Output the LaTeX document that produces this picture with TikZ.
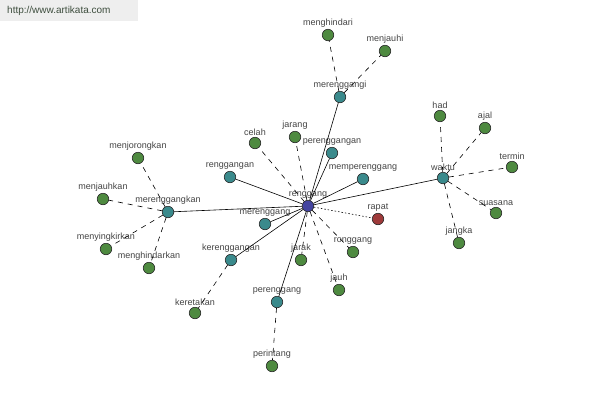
\documentclass[tikz,border=0pt]{standalone}
\usepackage{fontspec}
\setmainfont{Liberation Sans}
\definecolor{cgreen}{HTML}{4E8A40}
\definecolor{cteal}{HTML}{3A8A8C}
\definecolor{cblue}{HTML}{4444A0}
\definecolor{cred}{HTML}{9E3A3A}
\definecolor{ctext}{HTML}{444444}
\definecolor{wmbg}{HTML}{EEEEEE}
\definecolor{wmtext}{HTML}{3E4E3E}
\tikzset{
  nd/.style={circle,draw=black!85,line width=0.6pt,minimum size=11.5pt,inner sep=0pt},
  gn/.style={nd,fill=cgreen},
  tn/.style={nd,fill=cteal},
  bn/.style={nd,fill=cblue},
  rn/.style={nd,fill=cred},
  lbl/.style={label={[text=ctext,font=\fontsize{9}{10}\selectfont,inner sep=0pt,yshift=1.5pt]above:#1}},
  solidedge/.style={draw=black,line width=0.6pt},
  dashedge/.style={draw=black,line width=0.6pt,dash pattern=on 5pt off 5pt},
  dotedge/.style={draw=black,line width=0.6pt,dash pattern=on 1.5pt off 2pt}
}
\begin{document}
\begin{tikzpicture}[x=1pt,y=-1pt]
\useasboundingbox[fill=white] (0,0) rectangle (600,400);
\fill[wmbg] (0,0) rectangle (138,21);
\node[text=wmtext,font=\fontsize{10}{11}\selectfont,anchor=west,inner sep=0pt] (wm) at (7,11) {http://www.artikata.com};
% nodes
\node[bn,lbl=renggang] (renggang) at (308,206) {};
\node[tn,lbl=merenggangi] (merenggangi) at (340,97) {};
\node[gn,lbl=menghindari] (menghindari) at (328,35) {};
\node[gn,lbl=menjauhi] (menjauhi) at (385,51) {};
\node[tn,lbl=waktu] (waktu) at (443,178) {};
\node[gn,lbl=had] (had) at (440,116) {};
\node[gn,lbl=ajal] (ajal) at (485,128) {};
\node[gn,lbl=termin] (termin) at (512,167) {};
\node[gn,lbl=suasana] (suasana) at (496,213) {};
\node[gn,lbl=jangka] (jangka) at (459,243) {};
\node[tn,lbl=merenggangkan] (merenggangkan) at (168,212) {};
\node[gn,lbl=menjorongkan] (menjorongkan) at (138,158) {};
\node[gn,lbl=menjauhkan] (menjauhkan) at (103,199) {};
\node[gn,lbl=menyingkirkan] (menyingkirkan) at (106,249) {};
\node[gn,lbl=menghindarkan] (menghindarkan) at (149,268) {};
\node[tn,lbl=renggangan] (renggangan) at (230,177) {};
\node[gn,lbl=celah] (celah) at (255,143) {};
\node[gn,lbl=jarang] (jarang) at (295,137) {};
\node[tn,lbl=perenggangan] (perenggangan) at (332,153) {};
\node[tn,lbl=memperenggang] (memperenggang) at (363,179) {};
\node[rn,lbl=rapat] (rapat) at (378,219) {};
\node[tn,lbl=merenggang] (merenggang) at (265,224) {};
\node[tn,lbl=kerenggangan] (kerenggangan) at (231,260) {};
\node[gn,lbl=keretakan] (keretakan) at (195,313) {};
\node[gn,lbl=jarak] (jarak) at (301,260) {};
\node[gn,lbl=ronggang] (ronggang) at (353,252) {};
\node[gn,lbl=jauh] (jauh) at (339,290) {};
\node[tn,lbl=perenggang] (perenggang) at (277,302) {};
\node[gn,lbl=perintang] (perintang) at (272,366) {};
% edges
\foreach \t in {merenggangi,waktu,merenggangkan,renggangan,perenggangan,memperenggang,merenggang,kerenggangan,perenggang}
  \path[solidedge] (renggang) -- (\t);
\foreach \t in {celah,jarang,jarak,ronggang,jauh}
  \path[dashedge] (renggang) -- (\t);
\path[dotedge] (renggang) -- (rapat);
\foreach \t in {menghindari,menjauhi}
  \path[dashedge] (merenggangi) -- (\t);
\foreach \t in {had,ajal,termin,suasana,jangka}
  \path[dashedge] (waktu) -- (\t);
\foreach \t in {menjorongkan,menjauhkan,menyingkirkan,menghindarkan}
  \path[dashedge] (merenggangkan) -- (\t);
\path[dashedge] (kerenggangan) -- (keretakan);
\path[dashedge] (perenggang) -- (perintang);
\end{tikzpicture}
\end{document}
